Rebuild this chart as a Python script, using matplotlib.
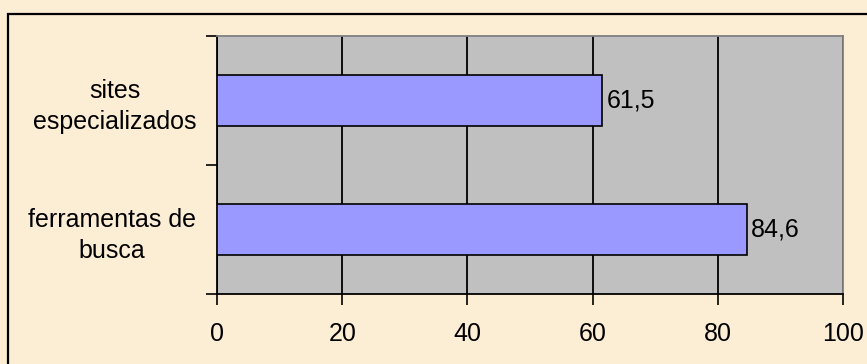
import matplotlib.pyplot as plt
from matplotlib.patches import Rectangle

categorias = ['ferramentas de\nbusca', 'sites\nespecializados']
valores = [84.6, 61.5]
rotulos = ['84,6', '61,5']
xticks = [0, 20, 40, 60, 80, 100]

plt.rcParams['font.family'] = ['Liberation Sans', 'DejaVu Sans']

W, H = 867, 364
fig = plt.figure(figsize=(W / 100, H / 100), dpi=100)
fig.patch.set_facecolor('#FCEDD5')

# plot area in pixels
x0, x1, y0, y1 = 217, 843, 36, 294
ax = fig.add_axes([x0 / W, 1 - y1 / H, (x1 - x0) / W, (y1 - y0) / H])
ax.set_facecolor('#C0C0C0')

pos = list(range(len(categorias)))
ax.barh(pos, valores, height=0.4, color='#9999FF', edgecolor='black', linewidth=1.2, zorder=3)
for p, v, r in zip(pos, valores, rotulos):
    ax.text(v + 0.7, p, r, va='center', ha='left', fontsize=18, zorder=4)

ax.set_xlim(0, 100)
ax.set_ylim(-0.5, len(categorias) - 0.5)
ax.set_xticks(xticks)
ax.set_xticklabels([str(t) for t in xticks], fontsize=18)
ax.set_yticks(pos)
ax.set_yticklabels(categorias, fontsize=18, multialignment='center', linespacing=1.35)
ax.set_yticks([-0.5, 0.5, 1.5], minor=True)
ax.tick_params(axis='y', which='major', length=0, pad=15)
ax.tick_params(axis='y', which='minor', length=8, width=1.2, direction='out')
ax.tick_params(axis='x', length=8, width=1.2, direction='out', pad=12)

ax.grid(axis='x', color='black', linewidth=1.3, zorder=1)
ax.set_axisbelow(True)
for s in ['left', 'bottom']:
    ax.spines[s].set_color('black')
    ax.spines[s].set_linewidth(1.3)
for s in ['top', 'right']:
    ax.spines[s].set_color('#808080')
    ax.spines[s].set_linewidth(1.3)

# outer frame, cut off at right and bottom
fig.add_artist(Rectangle((8 / W, -0.1), 1.2, 1.1 - 14 / H, transform=fig.transFigure,
                         fill=False, edgecolor='black', linewidth=1.6))

fig.savefig('out.png', dpi=100, facecolor=fig.get_facecolor())
